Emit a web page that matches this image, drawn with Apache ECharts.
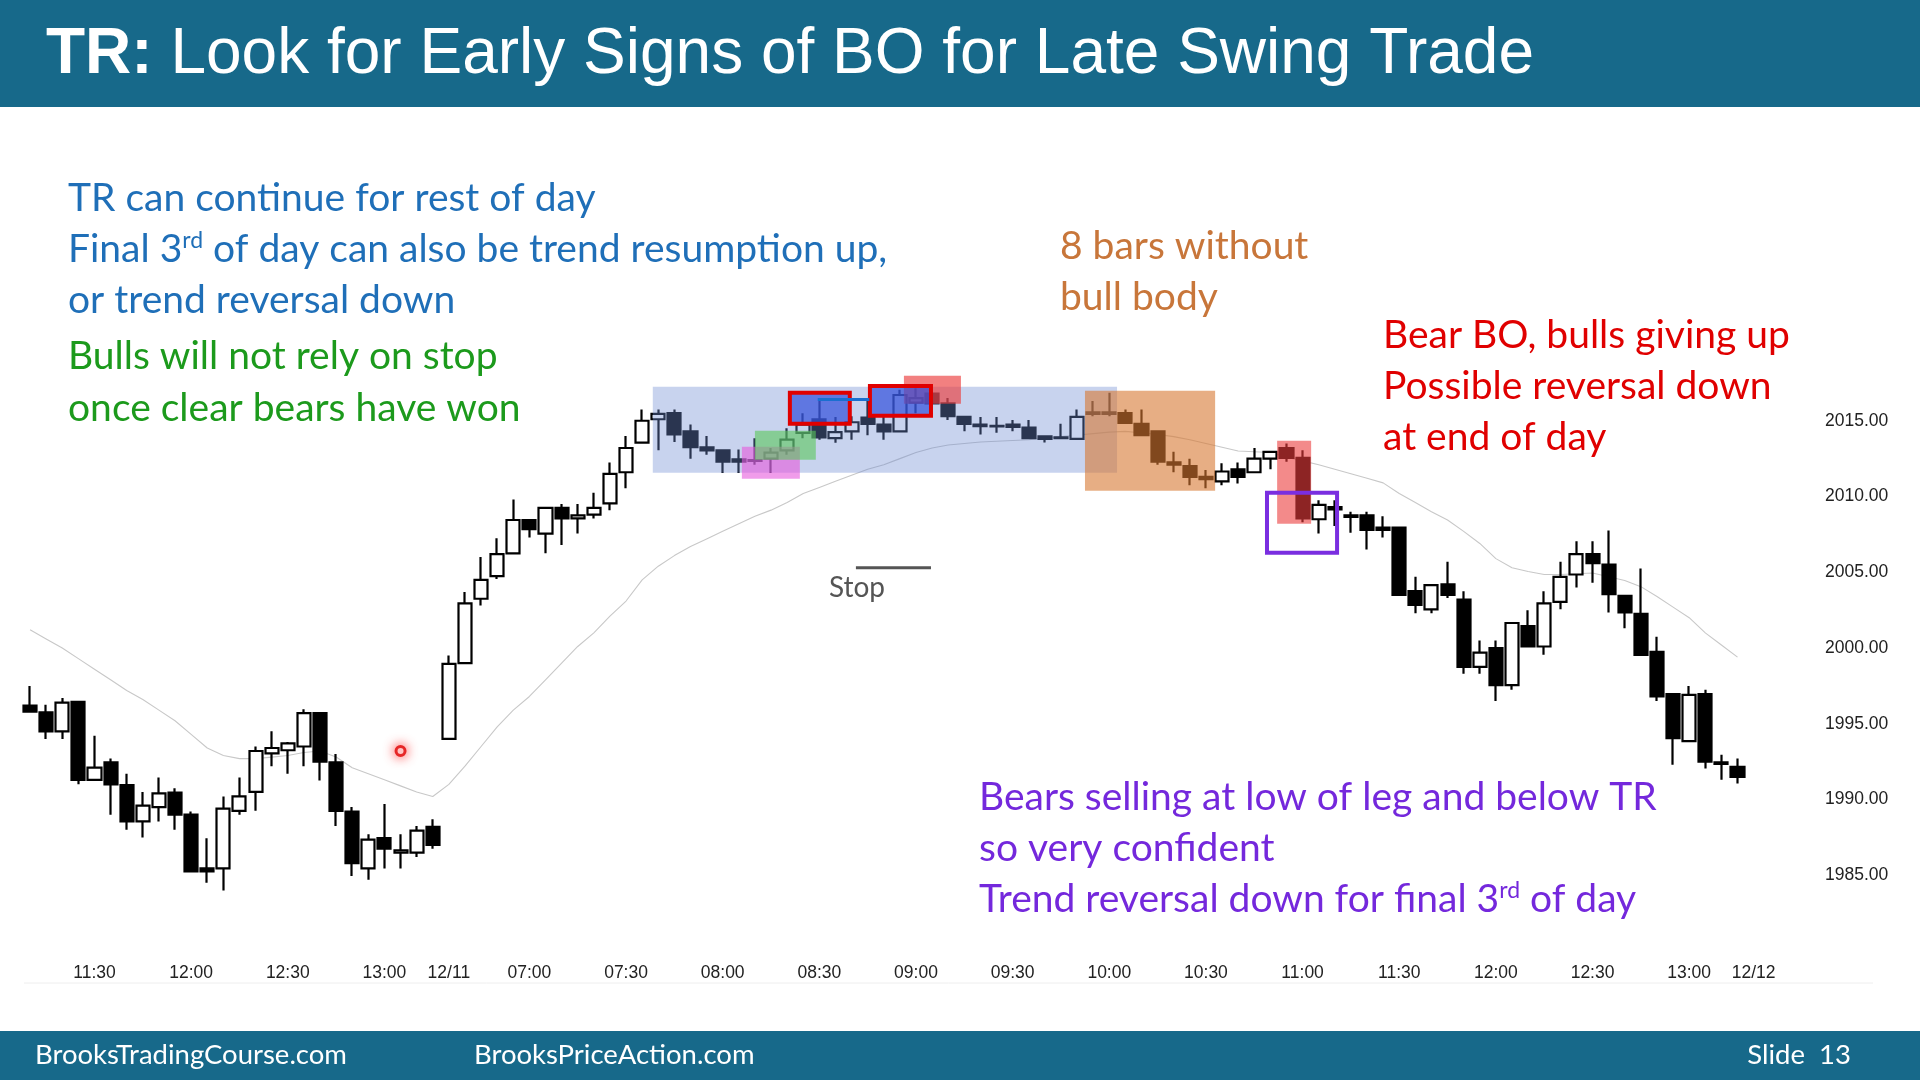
<!DOCTYPE html>
<html>
<head>
<meta charset="utf-8">
<title>TR: Look for Early Signs of BO for Late Swing Trade</title>
<script src="https://cdn.jsdelivr.net/npm/echarts/dist/echarts.min.js"></script>
<style>
    html, body { margin: 0; padding: 0; background: #fff; }
    #echarts { width: 1920px; height: 1080px; }
</style>
</head>
<body>
<div id="echarts"></div>
<script>
// ---------------- 5 min bars: 12/10 11:10-13:15, then 12/11 06:35-13:15
const opens = [
    1996.2, 1995.75, 1994.5, 1996.45, 1991.3, 1992.45, 1990.95, 1988.55, 1989.5, 1990.45,
    1989.0, 1985.45, 1985.45, 1989.25, 1990.5, 1993.05, 1993.25, 1993.5, 1995.7, 1992.45,
    1989.2, 1985.45, 1987.45, 1986.5, 1986.5, 1988.2,
    1994.0, 1999.0, 2003.25, 2004.75, 2006.25, 2008.45, 2007.55, 2009.25, 2008.55, 2008.8,
    2009.55, 2011.6, 2013.55, 2015.1, 2015.5, 2014.3, 2013.25, 2013.05, 2012.45, 2012.35,
    2012.5, 2013.05, 2014.2, 2015.1, 2013.85, 2014.3, 2015.2, 2014.75, 2014.3, 2016.2,
    2016.8, 2016.15, 2015.25, 2014.75, 2014.62, 2014.75, 2014.55, 2013.97, 2013.9, 2013.8,
    2015.55, 2015.55, 2015.5, 2014.8, 2014.3, 2012.25, 2012.0, 2011.3, 2011.0, 2011.8,
    2011.6, 2012.5, 2013.2, 2012.55, 2008.5, 2009.3, 2008.75, 2008.75, 2007.8, 2007.95,
    2003.75, 2002.55, 2004.2, 2003.2, 1998.75, 2000.0, 1997.55, 2001.45, 2000.1, 2003.05,
    2004.85, 2006.2, 2005.5, 2003.45, 2002.25, 1999.75, 1996.95, 1993.85, 1996.95, 1992.45, 1992.15
];
const closes = [
    1995.8, 1994.5, 1996.4, 1991.3, 1992.1, 1991.0, 1988.55, 1989.6, 1990.4, 1989.0,
    1985.25, 1985.25, 1989.4, 1990.2, 1993.2, 1993.4, 1993.7, 1995.7, 1992.5, 1989.25,
    1985.8, 1987.35, 1986.75, 1986.65, 1987.95, 1987.0,
    1998.95, 2002.95, 2004.5, 2006.2, 2008.45, 2007.85, 2009.25, 2008.55, 2008.75, 2009.25,
    2011.5, 2013.2, 2015.0, 2015.45, 2014.1, 2013.25, 2013.05, 2012.3, 2012.3, 2012.4,
    2012.9, 2013.75, 2014.75, 2013.9, 2014.25, 2014.9, 2014.8, 2014.3, 2016.7, 2016.5,
    2016.15, 2015.3, 2014.8, 2014.65, 2014.67, 2014.6, 2013.85, 2013.8, 2013.85, 2015.25,
    2015.45, 2015.45, 2014.85, 2014.05, 2012.3, 2012.1, 2011.3, 2011.15, 2011.65, 2011.3,
    2012.5, 2012.95, 2012.55, 2008.55, 2009.45, 2009.15, 2008.65, 2007.8, 2007.95, 2003.5,
    2002.85, 2004.15, 2003.5, 1998.75, 1999.7, 1997.55, 2001.65, 2000.1, 2002.95, 2004.7,
    2006.2, 2005.6, 2003.55, 2002.35, 1999.55, 1996.8, 1994.05, 1996.9, 1992.5, 1992.35, 1991.5
];
const lows = [
    1995.75, 1994.0, 1994.0, 1991.0, 1991.3, 1989.0, 1988.0, 1987.5, 1988.55, 1988.0,
    1985.25, 1984.5, 1984.0, 1989.0, 1989.25, 1992.2, 1991.7, 1992.2, 1991.25, 1988.25,
    1984.95, 1984.7, 1985.45, 1985.45, 1986.2, 1986.75,
    1994.0, 1998.95, 2002.8, 2004.55, 2006.25, 2007.3, 2006.25, 2006.8, 2007.55, 2008.55,
    2009.1, 2010.55, 2013.55, 2013.05, 2013.6, 2012.5, 2012.75, 2011.55, 2011.55, 2012.1,
    2011.55, 2012.75, 2013.85, 2013.75, 2013.55, 2013.75, 2014.05, 2013.75, 2014.3, 2015.5,
    2016.1, 2015.05, 2014.3, 2014.1, 2014.2, 2014.3, 2013.8, 2013.57, 2013.8, 2013.8,
    2015.3, 2015.3, 2014.85, 2014.05, 2012.1, 2011.6, 2010.75, 2010.55, 2010.75, 2010.85,
    2011.6, 2011.8, 2012.3, 2008.3, 2007.55, 2008.05, 2007.6, 2006.5, 2007.3, 2003.5,
    2002.3, 2002.3, 2003.3, 1998.3, 1998.3, 1996.5, 1997.25, 2000.1, 1999.55, 2002.55,
    2004.0, 2004.3, 2002.35, 2001.3, 1999.55, 1996.5, 1992.3, 1993.85, 1992.05, 1991.3, 1991.05
];
const highs = [
    1997.5, 1996.25, 1996.7, 1996.5, 1994.2, 1992.7, 1991.7, 1990.5, 1991.45, 1990.75,
    1989.2, 1987.45, 1990.2, 1991.45, 1993.5, 1994.5, 1993.8, 1995.95, 1995.7, 1993.0,
    1989.5, 1987.7, 1989.7, 1987.7, 1988.25, 1988.7,
    1999.5, 2003.7, 2006.0, 2007.25, 2009.8, 2008.5, 2009.3, 2009.5, 2009.5, 2010.25,
    2012.25, 2014.0, 2015.75, 2015.75, 2015.75, 2014.75, 2014.0, 2013.1, 2013.1, 2013.85,
    2013.2, 2014.5, 2015.5, 2016.4, 2015.25, 2015.3, 2016.3, 2015.3, 2017.05, 2017.15,
    2016.9, 2016.5, 2015.25, 2015.25, 2015.25, 2015.05, 2015.05, 2013.97, 2014.8, 2015.75,
    2016.3, 2016.85, 2015.75, 2015.75, 2014.3, 2012.95, 2012.5, 2011.75, 2012.2, 2012.25,
    2013.2, 2013.0, 2013.5, 2013.05, 2009.75, 2009.75, 2009.0, 2009.0, 2008.7, 2007.95,
    2004.7, 2004.2, 2005.7, 2003.75, 2000.5, 2000.5, 2001.7, 2002.5, 2003.75, 2005.7,
    2007.05, 2007.05, 2007.75, 2003.45, 2005.25, 2000.75, 1996.95, 1997.5, 1997.25, 1992.95, 1992.7
];
// thin grey moving average
const ema = [
    2001.2, 2000.6, 2000.0, 1999.3, 1998.6, 1997.9, 1997.2, 1996.6, 1995.9, 1995.2,
    1994.3, 1993.4, 1992.9, 1992.7, 1992.7, 1992.8, 1992.9, 1993.1, 1993.2, 1992.8,
    1992.1, 1991.7, 1991.3, 1990.9, 1990.5, 1990.2,
    1991.0, 1992.2, 1993.5, 1994.8, 1995.9, 1996.8, 1997.9, 1999.0, 2000.1, 2001.0,
    2002.1, 2003.1, 2004.5, 2005.4, 2006.1, 2006.7, 2007.2, 2007.7, 2008.2, 2008.7,
    2009.1, 2009.6, 2010.2, 2010.6, 2011.0, 2011.4, 2011.8, 2012.1, 2012.5, 2012.9,
    2013.2, 2013.4, 2013.5, 2013.6, 2013.65, 2013.7, 2013.75, 2013.85, 2013.95, 2014.05,
    2014.15, 2014.25, 2014.3, 2014.2, 2014.1, 2013.95, 2013.75, 2013.5, 2013.25, 2013.0,
    2012.95, 2012.9, 2012.6, 2012.35, 2012.1, 2011.8, 2011.5, 2011.2, 2010.9, 2010.2,
    2009.6, 2009.0, 2008.45, 2007.7, 2006.9, 2005.9, 2005.3, 2005.05, 2004.85, 2004.85,
    2004.9, 2004.95, 2004.7, 2004.45, 2004.05, 2003.4, 2002.7, 2002.0, 2001.0, 2000.2, 1999.4
];
// x axis tick labels that are shown
const tickLabels = ['11:30', '12:00', '12:30', '13:00', '12/11', '07:00', '07:30', '08:00', '08:30',
    '09:00', '09:30', '10:00', '10:30', '11:00', '11:30', '12:00', '12:30', '13:00', '12/12'];
// red marker dot [bar index, price]
const dotPoint = [23, 1993.2];

// build category list (5 min bars), first bar of each day is labelled with its date
const pad = (n) => (n < 10 ? '0' + n : '' + n);
const categories = [];
const addDay = (date, h, m, endH, endM) => {
    let first = true;
    while (h * 60 + m <= endH * 60 + endM) {
        categories.push(first && date !== '12/10' ? date : date + ' ' + pad(h) + ':' + pad(m));
        first = false;
        m += 5;
        if (m >= 60) { m -= 60; h += 1; }
    }
};
addDay('12/10', 11, 10, 13, 15);
addDay('12/11', 6, 35, 13, 15);
categories.push('12/12');
for (let i = 0; i < 3; i++) categories.push('pad' + i);

const labelOf = (v) => (v.indexOf(' ') > 0 ? v.split(' ')[1] : v);
const shownIdx = [];
let t = 0;
categories.forEach((c, i) => {
    if (t < tickLabels.length && labelOf(c) === tickLabels[t]) { shownIdx.push(i); t++; }
});

const candleData = opens.map((o, i) => [o, closes[i], lows[i], highs[i]]);

// annotation boxes: [fromBar, toBar, low, high, fill, stroke]  (fractional bar index)
const boxes = [
    [38.66, 67.48, 2011.57, 2017.25, 'rgba(110,140,210,0.38)', null],
    [44.19, 47.79, 2011.17, 2013.28, 'rgba(230,90,220,0.6)', null],
    [45.0, 48.78, 2012.42, 2014.34, 'rgba(90,200,90,0.6)', null],
    [65.49, 73.57, 2010.38, 2016.98, 'rgba(215,120,50,0.6)', null],
    [54.25, 57.79, 2016.12, 2017.97, 'rgba(235,60,60,0.65)', null],
    [47.17, 50.89, 2014.8, 2016.85, 'rgba(50,80,220,0.7)', '#e00000'],
    [52.14, 55.93, 2015.33, 2017.3, 'rgba(50,80,220,0.7)', '#e00000'],
    [77.42, 79.53, 2008.2, 2013.68, 'rgba(235,60,60,0.6)', null],
    [76.79, 81.14, 2006.28, 2010.24, 'none', '#7a2ee0']
];
// annotation lines: [fromBar, toBar, price, color, width]
const marks = [
    [48.9, 52.1, 2016.4, '#1a6fd0', 3],
    [51.27, 55.93, 2005.3, '#555555', 3]
];

const mycharts = echarts.init(document.getElementById('echarts'), null, { renderer: 'canvas' });

// x pixel of a fractional bar index
const xOf = (api, v) => {
    const i = Math.floor(v);
    return api.coord([i, 0])[0] + (v - i) * api.size([1, 0])[0];
};

const bodyFont = 'Lato';
const txt = (text, x, y, color) => ({
    type: 'text', x: x, y: y, z: 100,
    style: {
        text: text, fill: color, font: '39px ' + bodyFont, verticalAlign: 'middle',
        rich: { sup: { fill: color, fontSize: 23, fontFamily: bodyFont, verticalAlign: 'top' } }
    }
});

let option = {
    animation: false,
    backgroundColor: '#fff',
    grid: { left: 22, right: 110, top: 345, bottom: 129 },
    xAxis: {
        type: 'category',
        data: categories,
        boundaryGap: true,
        axisLine: { show: false },
        axisTick: { show: false },
        splitLine: { show: false },
        axisLabel: {
            interval: (idx) => shownIdx.indexOf(idx) >= 0,
            formatter: labelOf,
            color: '#222',
            fontSize: 17.5,
            fontFamily: 'Liberation Sans',
            margin: 13
        }
    },
    yAxis: {
        type: 'value',
        position: 'right',
        min: 1980,
        max: 2020,
        interval: 5,
        splitLine: { show: false },
        axisLine: { show: false },
        axisTick: { show: false },
        axisLabel: {
            formatter: (v) => (v === 1980 || v === 2020 ? '' : v.toFixed(2)),
            color: '#222',
            fontSize: 17.5,
            fontFamily: 'Liberation Sans',
            margin: 15
        }
    },
    series: [
        {
            type: 'line',
            data: ema,
            symbol: 'none',
            z: 1,
            lineStyle: { color: '#c8c8c8', width: 1.1 }
        },
        {
            type: 'candlestick',
            data: candleData,
            barWidth: '84%',
            z: 2,
            itemStyle: {
                color: '#ffffff',
                color0: '#000000',
                borderColor: '#000000',
                borderColor0: '#000000',
                borderWidth: 2.2
            }
        },
        {
            // shaded boxes drawn on top of the bars
            type: 'custom',
            z: 5,
            clip: false,
            silent: true,
            data: boxes.map(() => [0, 2000]),
            renderItem: (params, api) => {
                const b = boxes[params.dataIndex];
                const x0 = xOf(api, b[0]), x1 = xOf(api, b[1]);
                const y0 = api.coord([0, b[3]])[1], y1 = api.coord([0, b[2]])[1];
                return {
                    type: 'rect',
                    shape: { x: x0, y: y0, width: x1 - x0, height: y1 - y0 },
                    style: {
                        fill: b[4],
                        stroke: b[5] || 'none',
                        lineWidth: b[5] ? 4 : 0
                    }
                };
            }
        },
        {
            type: 'custom',
            z: 6,
            clip: false,
            silent: true,
            data: marks.map(() => [0, 2000]),
            renderItem: (params, api) => {
                const m = marks[params.dataIndex];
                const y = api.coord([0, m[2]])[1];
                return {
                    type: 'line',
                    shape: { x1: xOf(api, m[0]), y1: y, x2: xOf(api, m[1]), y2: y },
                    style: { stroke: m[3], lineWidth: m[4] }
                };
            }
        },
        {
            type: 'scatter',
            data: [dotPoint],
            symbolSize: 9,
            z: 7,
            itemStyle: {
                color: '#ffffff',
                borderColor: '#e00000',
                borderWidth: 3,
                shadowBlur: 12,
                shadowColor: 'rgba(255,0,0,0.9)'
            }
        }
    ],
    graphic: [
        // title band and footer band
        { type: 'rect', shape: { x: 0, y: 0, width: 1920, height: 107 }, style: { fill: '#17698a' }, z: 50 },
        {
            type: 'text', x: 46, y: 55, z: 51,
            style: {
                text: '{b|TR:} Look for Early Signs of BO for Late Swing Trade',
                fill: '#ffffff', font: '64px Liberation Sans', verticalAlign: 'middle',
                rich: { b: { fill: '#ffffff', fontSize: 64, fontWeight: 'bold', fontFamily: 'Liberation Sans' } }
            }
        },
        { type: 'rect', shape: { x: 0, y: 1031, width: 1920, height: 49 }, style: { fill: '#17698a' }, z: 50 },
        { type: 'text', x: 35, y: 1055, z: 51, style: { text: 'BrooksTradingCourse.com', fill: '#fff', font: '27.5px Lato', verticalAlign: 'middle' } },
        { type: 'text', x: 474, y: 1055, z: 51, style: { text: 'BrooksPriceAction.com', fill: '#fff', font: '27.5px Lato', verticalAlign: 'middle' } },
        { type: 'text', x: 1851, y: 1055, z: 51, style: { text: 'Slide  13', fill: '#fff', font: '27.5px Lato', align: 'right', verticalAlign: 'middle' } },
        // faint frame line under the time labels
        { type: 'line', shape: { x1: 24, y1: 983, x2: 1873, y2: 983 }, style: { stroke: '#eeeeee', lineWidth: 1 }, z: 1 },

        txt('TR can continue for rest of day', 68, 198, '#1f6fb8'),
        txt('Final 3{sup|rd} of day can also be trend resumption up,', 68, 249, '#1f6fb8'),
        txt('or trend reversal down', 68, 300, '#1f6fb8'),
        txt('Bulls will not rely on stop', 68, 356, '#1c9a1c'),
        txt('once clear bears have won', 68, 408, '#1c9a1c'),
        txt('8 bars without', 1060, 246, '#c8763a'),
        txt('bull body', 1060, 297, '#c8763a'),
        txt('Bear BO, bulls giving up', 1383, 335, '#e00000'),
        txt('Possible reversal down', 1383, 386, '#e00000'),
        txt('at end of day', 1383, 437, '#e00000'),
        txt('Bears selling at low of leg and below TR', 979, 797, '#7428dc'),
        txt('so very confident', 979, 848, '#7428dc'),
        txt('Trend reversal down for final 3{sup|rd} of day', 979, 899, '#7428dc'),
        {
            type: 'text', x: 857, y: 588, z: 100,
            style: { text: 'Stop', fill: '#555', font: '28px Lato', align: 'center', verticalAlign: 'middle' }
        }
    ]
};
mycharts.setOption(option);
</script>
</body>
</html>
